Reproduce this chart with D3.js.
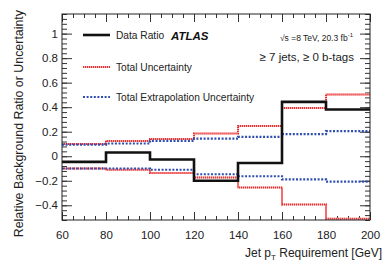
<!DOCTYPE html>
<html>
<head>
<meta charset="utf-8">
<script src="https://cdn.jsdelivr.net/npm/d3@7"></script>
<style>
  body { margin: 0; background: #fff; }
  text { font-family: "Liberation Sans", Arial, sans-serif; }
</style>
</head>
<body>
<script>
var width = 390, height = 265;

// bin edges in GeV
var edges = [60, 80, 100, 120, 140, 160, 180, 200];
var dataRatio = [-0.046, 0.03, -0.027, -0.2, -0.055, 0.443, 0.381];
var totalUp = [0.10, 0.125, 0.14, 0.185, 0.247, 0.394, 0.503];
var totalDown = [-0.10, -0.11, -0.136, -0.174, -0.255, -0.394, -0.509];
var extrapUp = [0.095, 0.104, 0.125, 0.144, 0.158, 0.18, 0.204];
var extrapDown = [-0.10, -0.10, -0.11, -0.147, -0.163, -0.188, -0.207];

var xTicks = [60, 80, 100, 120, 140, 160, 180, 200];
var yTicks = [-0.4, -0.2, 0, 0.2, 0.4, 0.6, 0.8, 1];

var margin = { left: 62, right: 20, top: 14, bottom: 45 };

var x = d3.scaleLinear().domain([60, 200]).range([margin.left, width - margin.right]);
var y = d3.scaleLinear().domain([-0.52, 1.16]).range([height - margin.bottom, margin.top]);

var svg = d3.select("body").append("svg")
    .attr("width", width)
    .attr("height", height);

var x0 = x.range()[0], x1 = x.range()[1];
var y0 = y.range()[0], y1 = y.range()[1];

// minor ticks
var xMinor = d3.range(60, 200.1, 5);
var yMinor = d3.range(-0.52, 1.161, 0.04).map(function(v) { return Math.round(v * 100) / 100; });

function fmt(v) {
  if (v === 0) return "0";
  return d3.format("")(Math.round(v * 10) / 10);
}

// bottom
svg.append("g").attr("transform", "translate(0," + y0 + ")")
  .call(d3.axisBottom(x).tickValues(xMinor).tickSize(-4).tickFormat(""))
  .call(function(g) { g.select(".domain").remove(); });
svg.append("g").attr("transform", "translate(0," + y0 + ")")
  .call(d3.axisBottom(x).tickValues(xTicks).tickSize(-8).tickPadding(11).tickFormat(d3.format("d")))
  .call(function(g) {
    g.select(".domain").remove();
    g.selectAll("text").attr("font-size", "11.5px").attr("fill", "#222");
  });
// top
svg.append("g").attr("transform", "translate(0," + y1 + ")")
  .call(d3.axisTop(x).tickValues(xMinor).tickSize(-4).tickFormat(""))
  .call(function(g) { g.select(".domain").remove(); });
svg.append("g").attr("transform", "translate(0," + y1 + ")")
  .call(d3.axisTop(x).tickValues(xTicks).tickSize(-8).tickFormat(""))
  .call(function(g) { g.select(".domain").remove(); });
// left
svg.append("g").attr("transform", "translate(" + x0 + ",0)")
  .call(d3.axisLeft(y).tickValues(yMinor).tickSize(-5).tickFormat(""))
  .call(function(g) { g.select(".domain").remove(); });
svg.append("g").attr("transform", "translate(" + x0 + ",0)")
  .call(d3.axisLeft(y).tickValues(yTicks).tickSize(-10).tickPadding(4).tickFormat(fmt))
  .call(function(g) {
    g.select(".domain").remove();
    g.selectAll("text").attr("font-size", "11.5px").attr("fill", "#222");
  });
// right
svg.append("g").attr("transform", "translate(" + x1 + ",0)")
  .call(d3.axisRight(y).tickValues(yMinor).tickSize(-5).tickFormat(""))
  .call(function(g) { g.select(".domain").remove(); });
svg.append("g").attr("transform", "translate(" + x1 + ",0)")
  .call(d3.axisRight(y).tickValues(yTicks).tickSize(-10).tickFormat(""))
  .call(function(g) { g.select(".domain").remove(); });

svg.selectAll(".tick line").attr("stroke", "#333");

// step histograms
function steps(vals) {
  var pts = vals.map(function(v, i) { return [edges[i], v]; });
  pts.push([edges[edges.length - 1], vals[vals.length - 1]]);
  return pts;
}
var line = d3.line()
  .x(function(d) { return x(d[0]); })
  .y(function(d) { return y(d[1]); })
  .curve(d3.curveStepAfter);

var plot = svg.append("g");

[totalUp, totalDown].forEach(function(s) {
  plot.append("path").attr("d", line(steps(s)))
    .attr("fill", "none").attr("stroke", "#f6b4b4").attr("stroke-width", 2);
  plot.append("path").attr("d", line(steps(s)))
    .attr("fill", "none").attr("stroke", "#ee2a2a").attr("stroke-width", 2)
    .attr("stroke-dasharray", "1,1");
});
[extrapUp, extrapDown].forEach(function(s) {
  plot.append("path").attr("d", line(steps(s)))
    .attr("fill", "none").attr("stroke", "#2f4fb0").attr("stroke-width", 2.2)
    .attr("stroke-dasharray", "2,1.6");
});
plot.append("path").attr("d", line(steps(dataRatio)))
  .attr("fill", "none").attr("stroke", "#111").attr("stroke-width", 2.6);

// frame
svg.append("rect")
  .attr("x", x0).attr("y", y1)
  .attr("width", x1 - x0).attr("height", y0 - y1)
  .attr("fill", "none").attr("stroke", "#222").attr("stroke-width", 1);

// legend
var legend = [
  { label: "Data Ratio", y: 35, color: "#111", dash: null, w: 2.6 },
  { label: "Total Uncertainty", y: 67, color: "#ee2a2a", dash: "1,1", w: 2 },
  { label: "Total Extrapolation Uncertainty", y: 97, color: "#2f4fb0", dash: "2,1.6", w: 2.2 }
];
legend.forEach(function(l) {
  if (l.dash === "1,1") {
    svg.append("line").attr("x1", 83).attr("x2", 110).attr("y1", l.y).attr("y2", l.y)
      .attr("stroke", "#f6b4b4").attr("stroke-width", 2);
  }
  svg.append("line").attr("x1", 83).attr("x2", 110).attr("y1", l.y).attr("y2", l.y)
    .attr("stroke", l.color).attr("stroke-width", l.w)
    .attr("stroke-dasharray", l.dash);
  svg.append("text").attr("x", 116).attr("y", l.y + 3.5)
    .attr("font-size", "10.2px").attr("fill", "#222").text(l.label);
});

svg.append("text").attr("x", 171).attr("y", 39.5)
  .attr("font-size", "11.5px").attr("font-weight", "bold").attr("font-style", "italic")
  .attr("fill", "#111").text("ATLAS");

var lumi = svg.append("text").attr("x", 353).attr("y", 41)
  .attr("text-anchor", "end").attr("font-size", "8.5px").attr("fill", "#222");
lumi.append("tspan").text("\u221As =8 TeV, 20.3 fb");
lumi.append("tspan").attr("font-size", "6px").attr("dy", -4).text("-1");

svg.append("text").attr("x", 354).attr("y", 61)
  .attr("text-anchor", "end").attr("font-size", "11.5px").attr("fill", "#222")
  .text("\u2265 7 jets, \u2265 0 b-tags");

// axis titles
var xt = svg.append("text").attr("x", 382).attr("y", 257)
  .attr("text-anchor", "end").attr("font-size", "12px").attr("fill", "#222");
xt.append("tspan").text("Jet p");
xt.append("tspan").attr("font-size", "8px").attr("dy", 3).text("T");
xt.append("tspan").attr("dy", -3).text(" Requirement [GeV]");

svg.append("text")
  .attr("transform", "translate(23,10) rotate(-90)")
  .attr("text-anchor", "end").attr("font-size", "12.4px").attr("fill", "#222")
  .text("Relative Background Ratio or Uncertainty");
</script>
</body>
</html>
